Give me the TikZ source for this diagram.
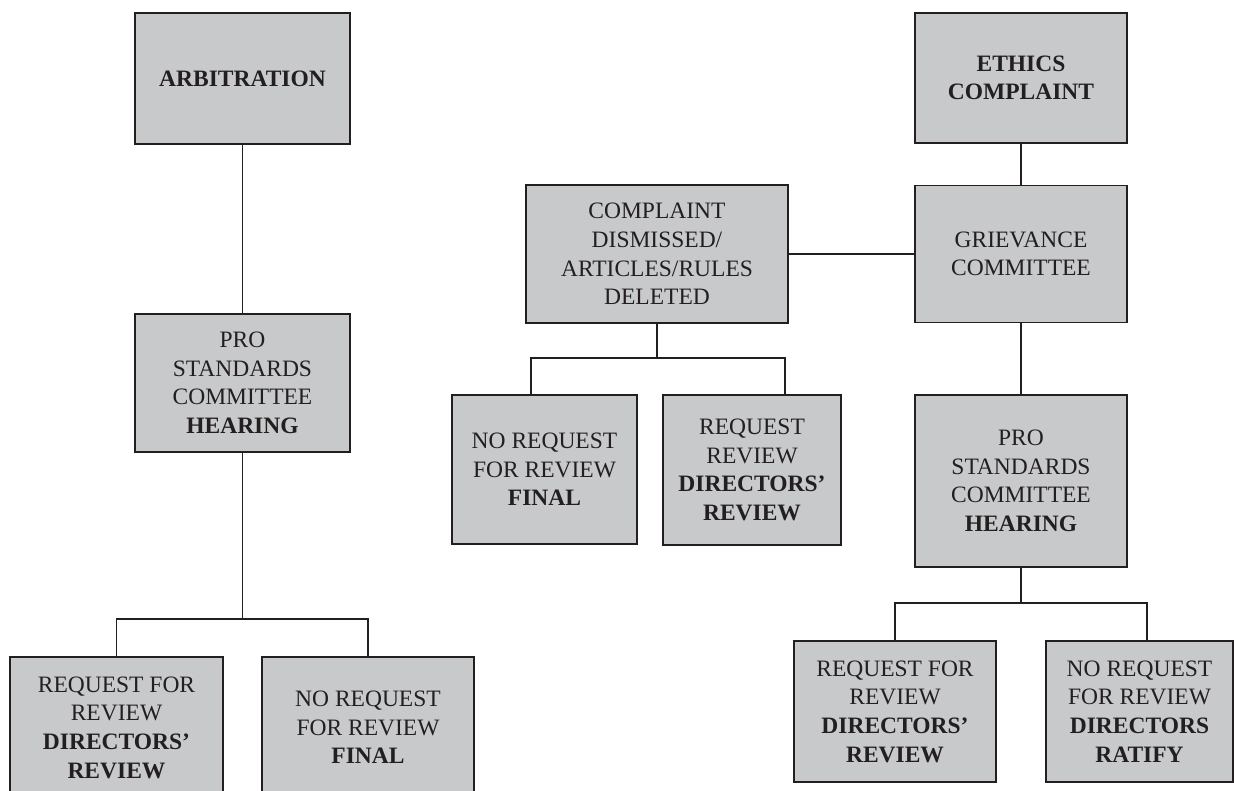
\documentclass[tikz,border=0pt]{standalone}
\usepackage{fontspec}
\setmainfont{Liberation Serif}
\definecolor{boxgray}{RGB}{200,201,203}
\definecolor{inkblack}{RGB}{35,31,32}

\begin{document}
\begin{tikzpicture}[
    x=1pt, y=-1pt,
    chartbox/.style={
      draw=inkblack,
      fill=boxgray,
      line width=1.8pt,
      text=inkblack,
      inner sep=0pt,
      align=center,
      font={\fontsize{23.5}{28.6}\selectfont}
    },
    link/.style={
      draw=inkblack,
      line width=1.8pt
    }
  ]
  \useasboundingbox (0,0) rectangle (1234,791);

  % Arbitration side
  \node[chartbox, minimum width=215pt, minimum height=131pt] (arb) at (242.5,78.5)
    {\textbf{ARBITRATION}};
  \node[chartbox, minimum width=215pt, minimum height=138pt] (proL) at (242.5,383)
    {PRO\\STANDARDS\\COMMITTEE\\\textbf{HEARING}};
  \node[chartbox, minimum width=213pt, minimum height=141pt] (reqL) at (116.5,727.5)
    {REQUEST FOR\\REVIEW\\\textbf{DIRECTORS'}\\\textbf{REVIEW}};
  \node[chartbox, minimum width=212pt, minimum height=141pt] (noreqL) at (368,727.5)
    {NO REQUEST\\FOR REVIEW\\\textbf{FINAL}};

  \coordinate (jL) at (242.5,619);
  \draw[link] (arb.south) -- (proL.north);
  \draw[link] (proL.south) -- (jL);
  \draw[link] (reqL.north) |- (jL) -| (noreqL.north);

  % Ethics complaint side
  \node[chartbox, minimum width=212pt, minimum height=130pt] (ethics) at (1021,78)
    {\textbf{ETHICS}\\\textbf{COMPLAINT}};
  \node[chartbox, minimum width=212pt, minimum height=137pt] (griev) at (1021,254)
    {GRIEVANCE\\COMMITTEE};
  \node[chartbox, minimum width=262pt, minimum height=138pt] (dism) at (657,254)
    {COMPLAINT\\DISMISSED/\\ARTICLES/RULES\\DELETED};
  \node[chartbox, minimum width=185pt, minimum height=149pt] (noreqM) at (544.5,469.5)
    {NO REQUEST\\FOR REVIEW\\\textbf{FINAL}};
  \node[chartbox, minimum width=178pt, minimum height=150pt] (reqM) at (752,470)
    {REQUEST\\REVIEW\\\textbf{DIRECTORS'}\\\textbf{REVIEW}};
  \node[chartbox, minimum width=212pt, minimum height=172pt] (proR) at (1021,481)
    {PRO\\STANDARDS\\COMMITTEE\\\textbf{HEARING}};
  \node[chartbox, minimum width=202pt, minimum height=141pt] (reqR) at (895,711.5)
    {REQUEST FOR\\REVIEW\\\textbf{DIRECTORS'}\\\textbf{REVIEW}};
  \node[chartbox, minimum width=187pt, minimum height=141pt] (ratify) at (1139.5,711.5)
    {NO REQUEST\\FOR REVIEW\\\textbf{DIRECTORS}\\\textbf{RATIFY}};

  \coordinate (jM) at (657,358);
  \coordinate (jR) at (1021,603);
  \draw[link] (ethics.south) -- (griev.north);
  \draw[link] (dism.east) -- (griev.west);
  \draw[link] (griev.south) -- (proR.north);
  \draw[link] (dism.south) -- (jM);
  \draw[link] ([xshift=-13.5pt]noreqM.north) |- (jM) -| ([xshift=33pt]reqM.north);
  \draw[link] (proR.south) -- (jR);
  \draw[link] (reqR.north) |- (jR) -| ([xshift=7.5pt]ratify.north);
\end{tikzpicture}
\end{document}
